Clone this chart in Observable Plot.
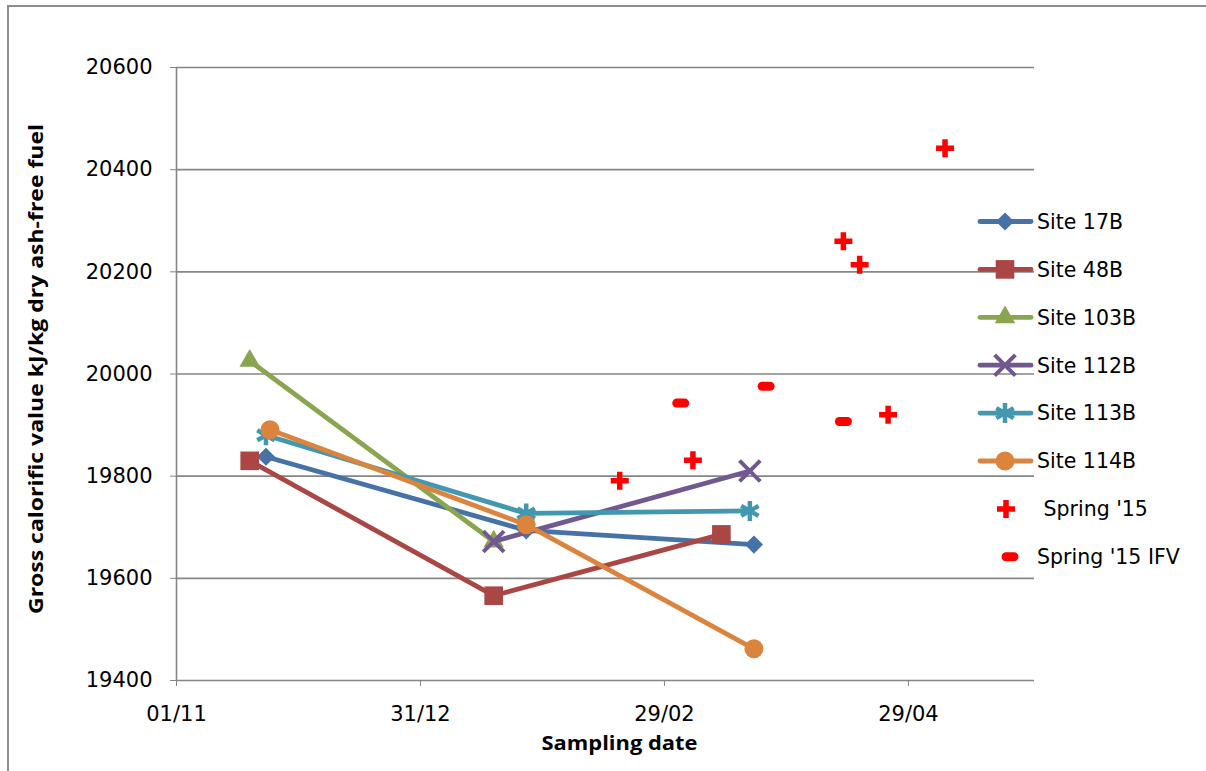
<!DOCTYPE html>
<html><head><meta charset="utf-8">
<script src="https://cdn.jsdelivr.net/npm/d3@7"></script>
<script src="https://cdn.jsdelivr.net/npm/@observablehq/plot@0.6"></script>
<style>
html,body{margin:0;padding:0;background:#fff;overflow:hidden;width:1206px;height:771px;}
#wrap{position:relative;width:1206px;height:771px;overflow:hidden;}
#frame{position:absolute;left:7px;top:5px;width:1210px;height:820px;border:2px solid #8e8e8e;box-sizing:border-box;pointer-events:none;}
#wrap svg{position:absolute;left:0;top:0;}
</style></head><body><div id="wrap"><div id="frame"></div></div>
<script>
// ---- data ----
const seriesNames = ["Site 17B","Site 48B","Site 103B","Site 112B","Site 113B","Site 114B"];
const seriesColors = ["#4572A7","#AA4643","#89A54E","#71588F","#4198AF","#DB843D"];
const seriesSymbols = ["diamond2","square","triangle","times","asterisk","circle"];

const site17B_dates  = ["2015-11-23","2016-01-26","2016-03-22"];
const site17B_values = [19838, 19694, 19666];
const site48B_dates  = ["2015-11-19","2016-01-18","2016-03-14"];
const site48B_values = [19830, 19566, 19686];
const site103B_dates = ["2015-11-19","2016-01-18"];
const site103B_values= [20026, 19672];
const site112B_dates = ["2016-01-18","2016-03-21"];
const site112B_values= [19672, 19810];
const site113B_dates = ["2015-11-23","2016-01-26","2016-03-21"];
const site113B_values= [19880, 19727, 19732];
const site114B_dates = ["2015-11-24","2016-01-26","2016-03-22"];
const site114B_values= [19891, 19705, 19462];

const spring15_dates  = ["2016-02-18","2016-03-07","2016-04-13","2016-04-17","2016-04-24","2016-05-08"];
const spring15_values = [19791, 19831, 20260, 20214, 19920, 20442];
const springIFV_dates  = ["2016-03-04","2016-03-25","2016-04-13"];
const springIFV_values = [19943, 19976, 19907];

const xDomain = ["2015-11-01","2016-05-30"];
const xTickDates = ["2015-11-01","2015-12-31","2016-02-29","2016-04-29"];
const yTicks = [19400,19600,19800,20000,20200,20400,20600];
const yTitle = "Gross calorific value kJ/kg dry ash-free fuel";
const xTitle = "Sampling date";
const springNames = [" Spring '15","Spring '15 IFV"];

// ---- build ----
const parse = s => new Date(s + "T00:00:00Z");
const seriesDates = [site17B_dates, site48B_dates, site103B_dates, site112B_dates, site113B_dates, site114B_dates];
const seriesValues = [site17B_values, site48B_values, site103B_values, site112B_values, site113B_values, site114B_values];
const spring = spring15_dates.map((d,i)=>({date:parse(d), value:spring15_values[i]}));
const ifv = springIFV_dates.map((d,i)=>({date:parse(d), value:springIFV_values[i]}));

const plusSymbol = {draw(ctx){ ctx.moveTo(-9,0); ctx.lineTo(9,0); ctx.moveTo(0,-9); ctx.lineTo(0,9); }};
const dashSymbol = {draw(ctx){ ctx.moveTo(-4,0); ctx.lineTo(4,0); }};
const symR = {diamond2:8.2, square:10.5, triangle:7.6, times:9.5, asterisk:9.5, circle:9.5};
const symSW = {times:4, asterisk:4.5};
const stroked = s => s === "times" || s === "asterisk";

const FONT = "DejaVu Sans";
const gray = "#868686";
const LW = 4.8;

const marks = [
  Plot.gridY(yTicks.slice(1), {stroke: gray, strokeOpacity: 1, strokeWidth: 1.6}),
  Plot.ruleX([parse(xDomain[0])], {stroke: gray, strokeWidth: 1.6}),
  Plot.ruleY([yTicks[0]], {stroke: gray, strokeWidth: 1.6}),
  Plot.axisY({ticks: yTicks, tickSize: 6, tickPadding: 18, tickFormat: d => String(d), stroke: gray, fill: "#000", label: null, fontSize: 21}),
  Plot.axisX({ticks: xTickDates.map(parse), tickSize: 6, tickPadding: 20, tickFormat: d3.utcFormat("%d/%m"), stroke: gray, fill: "#000", label: null, fontSize: 21}),
];
seriesNames.forEach((name, i) => {
  const rows = seriesDates[i].map((d,j)=>({date: parse(d), value: seriesValues[i][j]}));
  const sym = seriesSymbols[i];
  marks.push(Plot.line(rows, {x: "date", y: "value", stroke: seriesColors[i], strokeWidth: LW, strokeLinejoin: "round"}));
  marks.push(Plot.dot(rows, stroked(sym)
    ? {x: "date", y: "value", symbol: () => sym, r: symR[sym], stroke: seriesColors[i], strokeWidth: symSW[sym], fill: "none"}
    : {x: "date", y: "value", symbol: () => sym, r: symR[sym], fill: seriesColors[i], stroke: "none"}));
});
marks.push(Plot.dot(spring, {x: "date", y: "value", symbol: () => plusSymbol, stroke: "#FF0000", strokeWidth: 5.5, fill: "none"}));
marks.push(Plot.dot(ifv, {x: "date", y: "value", symbol: () => dashSymbol, stroke: "#FF0000", strokeWidth: 9, strokeLinecap: "round", fill: "none"}));
marks.push(Plot.text([yTitle], {text: d => d, frameAnchor: "left", textAnchor: "middle", rotate: -90, dx: -140, dy: -5, fontSize: 19, fontWeight: "bold", fill: "#000", className: "ytitle"}));
marks.push(Plot.text([xTitle], {text: d => d, frameAnchor: "bottom", textAnchor: "middle", lineAnchor: "middle", dx: 14, dy: 63, fontSize: 20, fontWeight: "bold", fill: "#000", className: "xtitle"}));

const chart = Plot.plot({
  width: 1206, height: 771,
  marginLeft: 176, marginRight: 172, marginTop: 67, marginBottom: 91,
  style: {fontFamily: FONT, fontSize: "20px", background: "transparent", color: "#000"},
  x: {type: "utc", domain: xDomain.map(parse)},
  y: {domain: [yTicks[0], yTicks[yTicks.length-1]]},
  symbol: {type: "identity"},
  marks
});
document.getElementById("wrap").appendChild(chart);
chart.querySelectorAll(".ytitle text").forEach(t => { t.setAttribute("textLength", 490); t.setAttribute("lengthAdjust", "spacingAndGlyphs"); t.style.fontFamily = "Open Sans"; });
chart.querySelectorAll(".xtitle text").forEach(t => { t.setAttribute("textLength", 156); t.setAttribute("lengthAdjust", "spacingAndGlyphs"); t.style.fontFamily = "Open Sans"; });

// ---- legend ----
const legendY0 = 221.5, legendStep = 47.9;
const leg = d3.select("#wrap").append("svg").attr("width", 1206).attr("height", 771)
  .style("font-family", FONT).style("font-size", "20.5px");
seriesNames.forEach((name, i) => {
  const y = legendY0 + i * legendStep;
  const g = leg.append("g").attr("transform", `translate(0,${y})`);
  g.append("line").attr("x1", 980).attr("x2", 1031).attr("y1", 0).attr("y2", 0)
    .attr("stroke", seriesColors[i]).attr("stroke-width", LW).attr("stroke-linecap", "round");
  const sym = seriesSymbols[i];
  const d3sym = {diamond2: d3.symbolDiamond2, square: d3.symbolSquare, triangle: d3.symbolTriangle, times: d3.symbolTimes, asterisk: d3.symbolAsterisk, circle: d3.symbolCircle}[sym];
  const p = g.append("path").attr("transform", "translate(1005,0)")
    .attr("d", d3.symbol(d3sym, Math.PI * symR[sym] * symR[sym])());
  if (stroked(sym)) p.attr("fill", "none").attr("stroke", seriesColors[i]).attr("stroke-width", symSW[sym]);
  else p.attr("fill", seriesColors[i]);
  g.append("text").attr("x", 1037).attr("y", 0).attr("dy", "0.36em").text(name);
});
[[plusSymbol, 1006, {"stroke-width": 5.5}], [dashSymbol, 1010, {"stroke-width": 9, "stroke-linecap": "round"}]].forEach(([s, cx, attrs], k) => {
  const y = legendY0 + (6 + k) * legendStep;
  const g = leg.append("g").attr("transform", `translate(0,${y})`);
  const p = g.append("path").attr("transform", `translate(${cx},0)`).attr("d", d3.symbol(s, 64)())
    .attr("fill", "none").attr("stroke", "#FF0000");
  Object.entries(attrs).forEach(([a, v]) => p.attr(a, v));
  g.append("text").attr("x", 1037).attr("y", 0).attr("dy", "0.36em").style("white-space", "pre").text(springNames[k]);
});
</script></body></html>
